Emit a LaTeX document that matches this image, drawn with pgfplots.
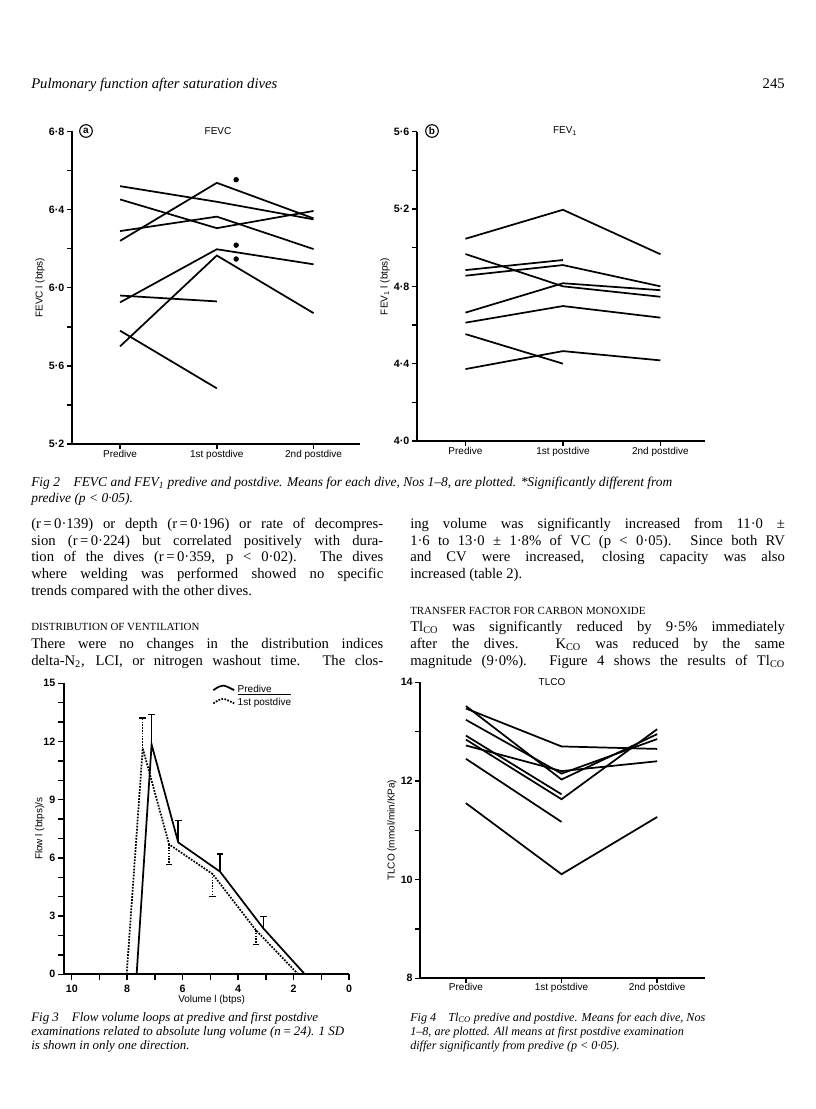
\documentclass[border=0pt]{standalone}
\usepackage{fontspec}
\setmainfont{Liberation Serif}
\setsansfont{Liberation Sans}
\usepackage{pgfplots}
\pgfplotsset{compat=1.18}
\newcommand\bodyfont{\fontsize{11}{13}\selectfont}
\newcommand\capfont{\fontsize{10.1}{12}\selectfont\itshape}
\newcommand\capfontc{\fontsize{9.7}{12}\selectfont\itshape}
\newcommand\capfontd{\fontsize{9.1}{12}\selectfont\itshape}
\newcommand\axfont{\sffamily\fontsize{7.5}{9}\selectfont}
\pgfplotsset{
  pagefig/.style={
    scale only axis, anchor=south west, clip=false,
    axis lines=left, axis line style={-, line width=1.3pt},
    every tick/.style={black, line width=1.1pt},
    tick align=outside, major tick length=4.5pt, minor tick length=4.5pt,
    /pgf/number format/assume math mode=true,
    yticklabel style={font=\sffamily\bfseries\fontsize{8}{9}\selectfont, xshift=1.5pt},
    xticklabel style={font=\axfont},
    label style={font=\axfont},
    cycle list={{black, solid, line width=1.3pt, mark=none}},
    every axis plot/.append style={black, line width=1.3pt},
  },
  catx/.style={xtick={0,1,2}, xticklabels={Predive,1st postdive,2nd postdive},
    major tick length=3.5pt, minor tick length=3.5pt, xticklabel style={yshift=2.5pt}},
  ebar/.style={draw=none, mark=none, forget plot},
}
\begin{document}
\begin{tikzpicture}[x=0.75pt,y=0.75pt]
\useasboundingbox[fill=white] (0,0) rectangle (816,-1109);

% ---------- header ----------
\node[anchor=base west, inner sep=0] at (31,-89) {\fontsize{11}{13}\selectfont\itshape Pulmonary function after saturation dives};
\node[anchor=base east, inner sep=0] at (785,-89) {\fontsize{11}{13}\selectfont 245};

% ---------- Fig 2a FEVC ----------
\begin{axis}[pagefig, catx, at={(53.775pt,-333pt)}, width=216.2pt, height=234.4pt,
  xmin=-0.5, xmax=2.48, ymin=5.2, ymax=6.8,
  ytick={5.2,5.6,6.0,6.4,6.8}, yticklabels={5·2,5·6,6·0,6·4,6·8},
  minor ytick={5.4,5.8,6.2,6.6},
  ylabel={FEVC l (btps)}, ylabel style={at={(axis description cs:-0.11,0.5)}, anchor=center}]
\addplot coordinates {(0,6.52) (1,6.44) (2,6.35)};
\addplot coordinates {(0,6.452) (1,6.305) (2,6.393)};
\addplot coordinates {(0,6.29) (1,6.364) (2,6.198)};
\addplot coordinates {(0,6.24) (1,6.537) (2,6.355)};
\addplot coordinates {(0,5.925) (1,6.197) (2,6.12)};
\addplot coordinates {(0,5.70) (1,6.165) (2,5.87)};
\addplot coordinates {(0,5.96) (1,5.93)};
\addplot coordinates {(0,5.78) (1,5.485)};
\addplot[only marks, mark=*, mark size=1.8pt, line width=0.4pt] coordinates {(1.2,6.553) (1.2,6.218) (1.2,6.147)};
\end{axis}
\node[circle, draw, line width=0.8pt, minimum size=9.5pt, inner sep=0pt, font=\sffamily\bfseries\fontsize{7.5}{8}\selectfont] at (86,-131) {a};
\node[font=\axfont] at (218,-131) {FEVC};

% ---------- Fig 2b FEV1 ----------
\begin{axis}[pagefig, catx, at={(312.525pt,-330.75pt)}, width=216.2pt, height=232pt,
  xmin=-0.5, xmax=2.457, ymin=4.0, ymax=5.6,
  ytick={4.0,4.4,4.8,5.2,5.6}, yticklabels={4·0,4·4,4·8,5·2,5·6},
  minor ytick={4.2,4.6,5.0,5.4},
  ylabel={FEV\textsubscript{1} l (btps)}, ylabel style={at={(axis description cs:-0.11,0.5)}, anchor=center}]
\addplot coordinates {(0,5.046) (1,5.196) (2,4.966)};
\addplot coordinates {(0,4.967) (1,4.80) (2,4.746)};
\addplot coordinates {(0,4.884) (1,4.936)};
\addplot coordinates {(0,4.855) (1,4.91) (2,4.80)};
\addplot coordinates {(0,4.664) (1,4.816) (2,4.78)};
\addplot coordinates {(0,4.612) (1,4.698) (2,4.638)};
\addplot coordinates {(0,4.553) (1,4.40)};
\addplot coordinates {(0,4.372) (1,4.465) (2,4.417)};
\end{axis}
\node[circle, draw, line width=0.8pt, minimum size=9.5pt, inner sep=0pt, font=\sffamily\bfseries\fontsize{7.5}{8}\selectfont] at (432,-131) {b};
\node[font=\axfont] at (565,-131) {FEV\textsubscript{1}};

% ---------- Fig 2 caption ----------
\node[anchor=base west, inner sep=0] at (31,-486) {\capfont Fig 2\quad FEVC and FEV\textsubscript{1} predive and postdive. Means for each dive, Nos 1--8, are plotted. *Significantly different from};
\node[anchor=base west, inner sep=0] at (31,-502) {\capfont predive (p \textless{} 0·05).};

% ---------- body text left ----------
\node[anchor=base west, inner sep=0] at (31,-528) {\bodyfont\makebox[264pt][s]{(r\,=\,0·139) or depth (r\,=\,0·196) or rate of decompres-}};
\node[anchor=base west, inner sep=0] at (31,-545) {\bodyfont\makebox[264pt][s]{sion (r\,=\,0·224) but correlated positively with dura-}};
\node[anchor=base west, inner sep=0] at (31,-561) {\bodyfont\makebox[264pt][s]{tion of the dives (r\,=\,0·359, p \textless{} 0·02). The dives}};
\node[anchor=base west, inner sep=0] at (31,-578) {\bodyfont\makebox[264pt][s]{where welding was performed showed no specific}};
\node[anchor=base west, inner sep=0] at (31,-595) {\bodyfont trends compared with the other dives.};
\node[anchor=base west, inner sep=0] at (31,-630) {\fontsize{8.2}{10}\selectfont DISTRIBUTION OF VENTILATION};
\node[anchor=base west, inner sep=0] at (31,-648) {\bodyfont\makebox[264pt][s]{There were no changes in the distribution indices}};
\node[anchor=base west, inner sep=0] at (31,-665) {\bodyfont\makebox[264pt][s]{delta-N\textsubscript{2}, LCI, or nitrogen washout time. The clos-}};

% ---------- body text right ----------
\node[anchor=base west, inner sep=0] at (410,-528) {\bodyfont\makebox[281pt][s]{ing volume was significantly increased from 11·0 ±}};
\node[anchor=base west, inner sep=0] at (410,-545) {\bodyfont\makebox[281pt][s]{1·6 to 13·0 ± 1·8\% of VC (p \textless{} 0·05). Since both RV}};
\node[anchor=base west, inner sep=0] at (410,-561) {\bodyfont\makebox[281pt][s]{and CV were increased, closing capacity was also}};
\node[anchor=base west, inner sep=0] at (410,-578) {\bodyfont increased (table 2).};
\node[anchor=base west, inner sep=0] at (410,-614) {\fontsize{8.2}{10}\selectfont TRANSFER FACTOR FOR CARBON MONOXIDE};
\node[anchor=base west, inner sep=0] at (410,-631) {\bodyfont\makebox[281pt][s]{Tl\textsubscript{CO} was significantly reduced by 9·5\% immediately}};
\node[anchor=base west, inner sep=0] at (410,-648) {\bodyfont\makebox[281pt][s]{after the dives. K\textsubscript{CO} was reduced by the same}};
\node[anchor=base west, inner sep=0] at (410,-665) {\bodyfont\makebox[281pt][s]{magnitude (9·0\%). Figure 4 shows the results of Tl\textsubscript{CO}}};

% ---------- Fig 3 flow volume ----------
\begin{axis}[pagefig, at={(48pt,-730.725pt)}, width=213.75pt, height=218.25pt,
  x dir=reverse, xmin=0, xmax=10.28, ymin=0, ymax=15,
  xtick={0,2,4,6,8,10}, minor xtick={1,3,5,7,9},
  xticklabel style={font=\sffamily\bfseries\fontsize{8}{9}\selectfont},
  ytick={0,3,6,9,12,15}, minor ytick={1,2,4,5,7,8,10,11,13,14},
  xlabel={Volume l (btps)}, xlabel style={at={(axis description cs:0.518,-0.088)}, anchor=center},
  ylabel={Flow l (btps)/s}, ylabel style={at={(axis description cs:-0.085,0.5)}, anchor=center},
  legend style={at={(axis description cs:0.52,1.005)}, anchor=north west, draw=none, fill=none,
    font=\sffamily\fontsize{7.5}{8}\selectfont, inner sep=0pt, row sep=-1pt},
  legend cell align=left,
  legend image code/.code={\draw[#1] (0cm,-0.02cm) .. controls (0.24cm,0.14cm) .. (0.55cm,-0.02cm);}]
\addplot[line width=1.3pt] coordinates {(7.66,0) (7.12,11.85) (6.16,6.8) (4.65,5.29) (3.09,2.37) (1.59,0)};
\addlegendentry{\rlap{Predive}\underline{\hphantom{1st postdive}}}
\addplot[line width=1.3pt, densely dotted] coordinates {(8.02,0) (7.44,11.65) (6.49,6.7) (4.92,5.17) (3.36,2.28) (1.83,0)};
\addlegendentry{1st postdive}
\addplot[ebar, error bars/.cd, y dir=plus, y explicit,
  error bar style={draw=black, line width=1.1pt, solid}, error mark options={draw=black, line width=1.1pt, mark size=2.5pt, rotate=90}]
  coordinates {(7.12,11.85) +- (0,1.55) (6.16,6.8) +- (0,1.12) (4.65,5.29) +- (0,0.9) (3.09,2.37) +- (0,0.6)};
\addplot[ebar, error bars/.cd, y dir=plus, y explicit,
  error bar style={draw=black, line width=1.1pt, densely dotted}, error mark options={draw=black, line width=1.1pt, solid, mark size=2.5pt, rotate=90}]
  coordinates {(7.44,11.65) +- (0,1.55)};
\addplot[ebar, error bars/.cd, y dir=minus, y explicit,
  error bar style={draw=black, line width=1.1pt, densely dotted}, error mark options={draw=black, line width=1.1pt, solid, mark size=2.5pt, rotate=90}]
  coordinates {(6.49,6.7) +- (0,1.03) (4.92,5.17) +- (0,1.17) (3.36,2.28) +- (0,0.73)};
\end{axis}

% ---------- Fig 4 TLCO ----------
\begin{axis}[pagefig, catx, at={(315pt,-733.725pt)}, width=213.75pt, height=222pt,
  xmin=-0.48, xmax=2.5, ymin=8, ymax=14,
  ytick={8,10,12,14}, minor ytick={9,11,13},
  xticklabel style={yshift=0.5pt},
  ylabel={TLCO (mmol/min/KPa)}, ylabel style={at={(axis description cs:-0.098,0.5)}, anchor=center}]
\addplot coordinates {(0,13.47) (1,12.70) (2,12.65)};
\addplot coordinates {(0,13.52) (1,12.03) (2,12.95)};
\addplot coordinates {(0,13.24) (1,12.15) (2,12.85)};
\addplot coordinates {(0,12.92) (1,11.73)};
\addplot coordinates {(0,12.84) (1,11.63) (2,13.05)};
\addplot coordinates {(0,12.72) (1,12.20) (2,12.40)};
\addplot coordinates {(0,12.45) (1,11.17)};
\addplot coordinates {(0,11.55) (1,10.11) (2,11.27)};
\end{axis}
\node[font=\axfont] at (552,-682) {TLCO};

% ---------- Fig 3 / Fig 4 captions ----------
\node[anchor=base west, inner sep=0] at (31,-1021) {\capfontc Fig 3\quad Flow volume loops at predive and first postdive};
\node[anchor=base west, inner sep=0] at (31,-1035) {\capfontc examinations related to absolute lung volume (n\,=\,24). 1 SD};
\node[anchor=base west, inner sep=0] at (31,-1049) {\capfontc is shown in only one direction.};
\node[anchor=base west, inner sep=0] at (410,-1021) {\capfontd Fig 4\quad Tl\textsubscript{CO} predive and postdive. Means for each dive, Nos};
\node[anchor=base west, inner sep=0] at (410,-1035) {\capfontd 1--8, are plotted. All means at first postdive examination};
\node[anchor=base west, inner sep=0] at (410,-1049) {\capfontd differ significantly from predive (p \textless{} 0·05).};
\end{tikzpicture}
\end{document}
